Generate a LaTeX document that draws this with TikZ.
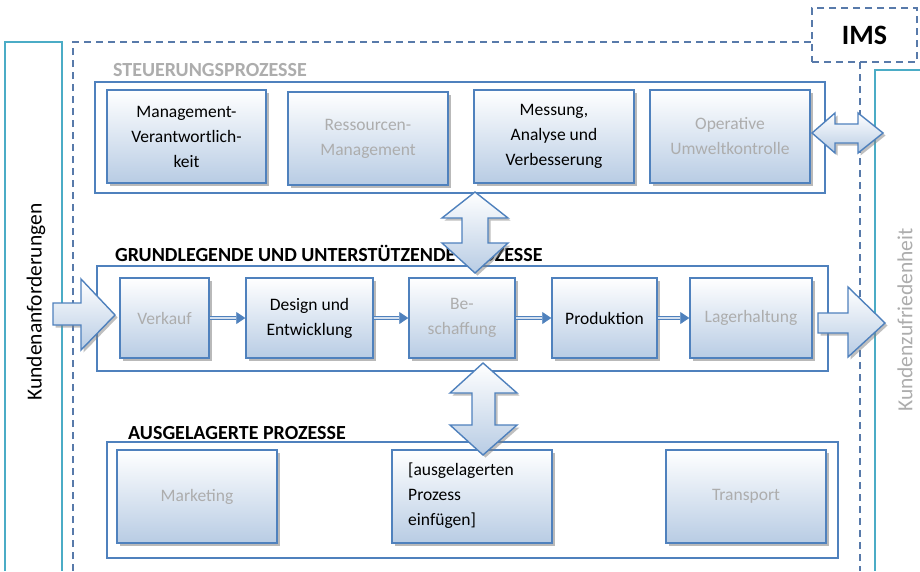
\documentclass[tikz,border=0pt]{standalone}
\usepackage{fontspec}
\setmainfont{Carlito}
\usetikzlibrary{shadows,arrows.meta}

\definecolor{imsblue}{RGB}{79,129,189}
\definecolor{imsfill}{RGB}{184,204,228}
\definecolor{imsteal}{RGB}{75,172,198}
\definecolor{imsdash}{RGB}{88,122,170}

\tikzset{
	procbox/.style={draw=imsblue, line width=1.5pt, top color=white, bottom color=imsfill,
		drop shadow={shadow xshift=2.5pt, shadow yshift=-2.5pt, fill=black!50, opacity=0.55},
		align=center, inner sep=0pt, font=\fontsize{17.5}{25}\selectfont},
	blurtext/.style={text=black!32},
	groupframe/.style={draw=imsblue, line width=1.2pt, inner sep=0pt},
	grouptitle/.style={anchor=west, inner sep=0pt, font=\fontsize{20}{22}\selectfont\bfseries},
	bigarrow/.style={draw=imsblue, line width=1.4pt, line join=miter, top color=white, bottom color=imsfill,
		drop shadow={shadow xshift=2.5pt, shadow yshift=-2.5pt, fill=black!50, opacity=0.5}},
	flowarrow/.style={draw=imsblue, line width=0.8pt, double=imsfill!60, double distance=2.2pt,
		-{Triangle[length=9pt,width=12pt,fill=imsblue]}, shorten >=0pt},
	imsdashed/.style={draw=imsdash, line width=1.2pt, dash pattern=on 7pt off 5pt},
	kundenside/.style={draw=imsteal, line width=1.6pt}
}

\begin{document}
\begin{tikzpicture}[x=1pt,y=-1pt]
	\useasboundingbox (0,0) rectangle (920,571);
	\fill[white] (0,0) rectangle (920,571);

	% Kunden
	\draw[kundenside] (5,571) -- (5,42) -- (62,42) -- (62,571);
	\node[rotate=90, font=\fontsize{21.5}{24}\selectfont] (anford) at (36,302) {Kundenanforderungen};
	\draw[kundenside] (920,70) -- (875,70) -- (875,571);
	\node[rotate=90, blurtext, font=\fontsize{21.5}{24}\selectfont] (zufrieden) at (905,320) {Kundenzufriedenheit};

	% IMS
	\draw[imsdashed] (73,571) -- (73,42) -- (812,42);
	\draw[imsdashed] (860,62) -- (860,571);
	\node[imsdashed, minimum width=105pt, minimum height=54pt, inner sep=0pt,
		font=\fontsize{28}{30}\selectfont\bfseries] (ims) at (864.5,35) {IMS};

	% Steuerungsprozesse
	\node[grouptitle, blurtext] (tsteuer) at (113,70) {STEUERUNGSPROZESSE};
	\node[groupframe, minimum width=730pt, minimum height=111pt] (steuer) at (460,137.5) {};
	\node[procbox, minimum width=159pt, minimum height=93pt] (mgmt) at (186.5,136.5) {Management-\\Verantwortlich-\\keit};
	\node[procbox, blurtext, minimum width=160pt, minimum height=93pt] (ressourcen) at (368,138.5) {Ressourcen-\\Management};
	\node[procbox, minimum width=160pt, minimum height=93pt] (messung) at (554,136.5) {Messung,\\Analyse und\\Verbesserung};
	\node[procbox, blurtext, minimum width=160pt, minimum height=93pt] (umwelt) at (730,136.5) {Operative\\Umweltkontrolle};

	% Grundlegende und unterstuetzende Prozesse
	\node[grouptitle] (tgrund) at (115,253) {GRUNDLEGENDE UND UNTERSTÜTZENDE PROZESSE};
	\node[groupframe, minimum width=731pt, minimum height=105pt] (grund) at (462.5,318.5) {};
	\node[procbox, blurtext, minimum width=89pt, minimum height=80pt] (verkauf) at (164.5,318) {Verkauf};
	\node[procbox, minimum width=127pt, minimum height=80pt] (design) at (309.5,318) {Design und\\Entwicklung};
	\node[procbox, blurtext, minimum width=106pt, minimum height=80pt] (beschaff) at (462,318) {Be-\\schaffung};
	\node[procbox, minimum width=105pt, minimum height=80pt] (produktion) at (604.5,318) {Produktion};
	\node[procbox, blurtext, minimum width=122pt, minimum height=80pt] (lager) at (751,318) {Lagerhaltung};
	\draw[flowarrow] (verkauf) -- (design);
	\draw[flowarrow] (design) -- (beschaff);
	\draw[flowarrow] (beschaff) -- (produktion);
	\draw[flowarrow] (produktion) -- (lager);

	% Ausgelagerte Prozesse
	\node[grouptitle] (taus) at (128,433) {AUSGELAGERTE PROZESSE};
	\node[groupframe, minimum width=731pt, minimum height=116pt] (ausgel) at (472.5,500) {};
	\node[procbox, blurtext, minimum width=160pt, minimum height=93pt] (marketing) at (197,496.5) {Marketing};
	\node[procbox, minimum width=160pt, minimum height=93pt] (einfuegen) at (472,496.5) {};
	\node[anchor=west, align=left, inner sep=0pt, font=\fontsize{17.5}{25}\selectfont] (einftext) at (408,496) {[ausgelagerten\\Prozess\\einfügen]};
	\node[procbox, blurtext, minimum width=160pt, minimum height=93pt] (transport) at (746,496.5) {Transport};

	% Blockpfeile
	\path[bigarrow] (475,192) -- (508,218) -- (488,218) -- (488,243) -- (508,243) -- (475,273)
		-- (442,243) -- (462,243) -- (462,218) -- (442,218) -- cycle;
	\path[bigarrow] (483,363) -- (517,393) -- (495,393) -- (495,425) -- (517,425) -- (483,455)
		-- (450,425) -- (472,425) -- (472,393) -- (450,393) -- cycle;
	\path[bigarrow] (812,133) -- (835,113) -- (835,124) -- (858,124) -- (858,113) -- (883,133)
		-- (858,153) -- (858,143) -- (835,143) -- (835,153) -- cycle;
	\path[bigarrow] (53,303) -- (81,303) -- (81,279) -- (115,315) -- (81,350) -- (81,325) -- (53,325) -- cycle;
	\path[bigarrow] (818,313) -- (848,313) -- (848,287) -- (885,323) -- (848,357) -- (848,333) -- (818,333) -- cycle;
\end{tikzpicture}
\end{document}
